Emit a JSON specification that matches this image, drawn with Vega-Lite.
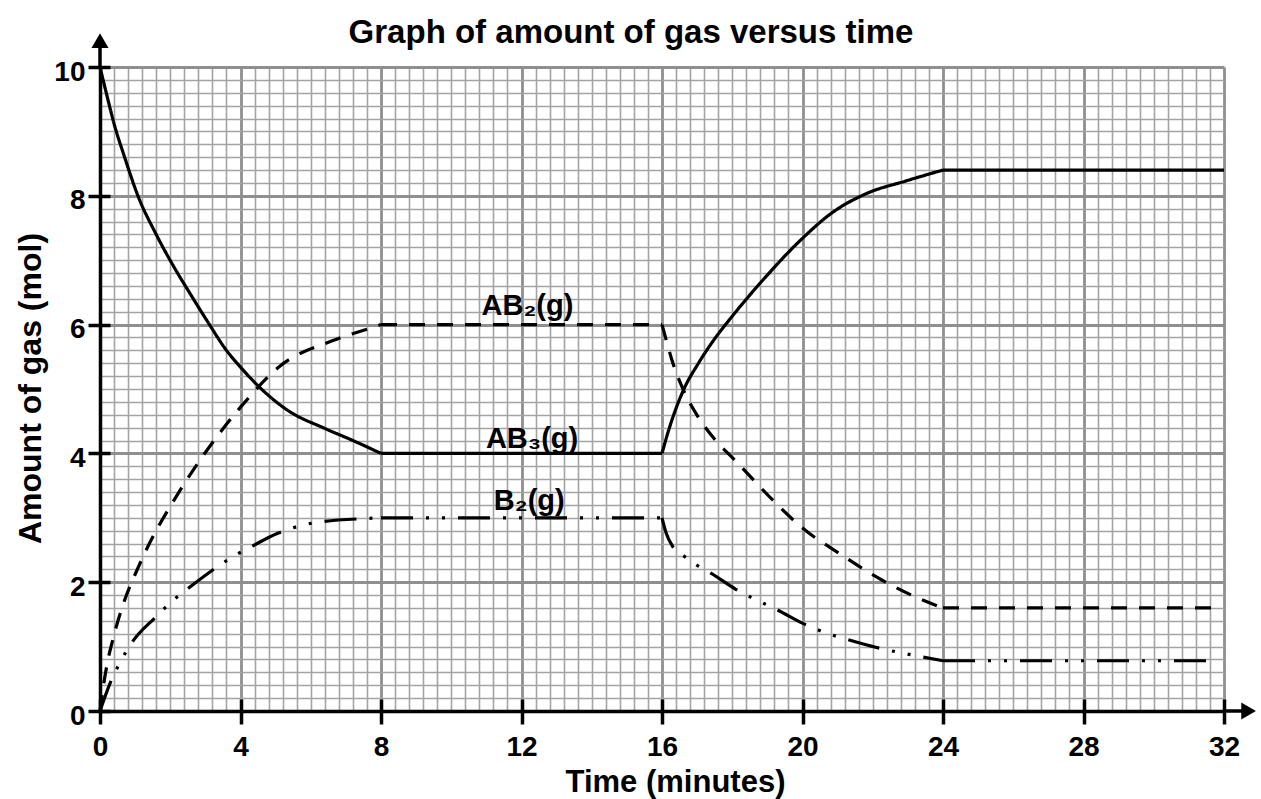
{
  "$schema": "https://vega.github.io/schema/vega-lite/v6.json",
  "width": 1124,
  "height": 644,
  "autosize": "none",
  "padding": {"left": 100, "top": 67, "right": 37, "bottom": 88},
  "background": "white",
  "config": {"view": {"stroke": null}, "font": "Liberation Sans"},
  "title": {"text": "Graph of amount of gas versus time", "font": "Liberation Sans", "fontSize": 33, "fontWeight": "bold", "color": "black", "anchor": "middle", "dx": -31, "baseline": "alphabetic", "offset": -43},
  "datasets": {
    "curves": [
      {"s":"AB3","seg":"AB3a","t":0,"n":10},{"s":"AB3","seg":"AB3a","t":0.2,"n":9.55},{"s":"AB3","seg":"AB3a","t":0.4,"n":9.12},{"s":"AB3","seg":"AB3a","t":0.7,"n":8.6},{"s":"AB3","seg":"AB3a","t":1.08,"n":8.0},{"s":"AB3","seg":"AB3a","t":1.6,"n":7.4},{"s":"AB3","seg":"AB3a","t":2.1,"n":6.9},{"s":"AB3","seg":"AB3a","t":2.6,"n":6.45},{"s":"AB3","seg":"AB3a","t":3.07,"n":6.04},{"s":"AB3","seg":"AB3a","t":3.6,"n":5.6},{"s":"AB3","seg":"AB3a","t":4.0,"n":5.34},{"s":"AB3","seg":"AB3a","t":4.5,"n":5.05},{"s":"AB3","seg":"AB3a","t":5.34,"n":4.67},{"s":"AB3","seg":"AB3a","t":6.39,"n":4.39},{"s":"AB3","seg":"AB3a","t":7.2,"n":4.2},{"s":"AB3","seg":"AB3a","t":8,"n":4},
      {"s":"AB3","seg":"AB3b","t":8,"n":4},{"s":"AB3","seg":"AB3b","t":16,"n":4},
      {"s":"AB3","seg":"AB3c","t":16,"n":4},{"s":"AB3","seg":"AB3c","t":16.2,"n":4.38},{"s":"AB3","seg":"AB3c","t":16.4,"n":4.7},{"s":"AB3","seg":"AB3c","t":16.6,"n":4.97},{"s":"AB3","seg":"AB3c","t":17.06,"n":5.42},{"s":"AB3","seg":"AB3c","t":17.5,"n":5.78},{"s":"AB3","seg":"AB3c","t":18.0,"n":6.13},{"s":"AB3","seg":"AB3c","t":18.95,"n":6.74},{"s":"AB3","seg":"AB3c","t":20.0,"n":7.34},{"s":"AB3","seg":"AB3c","t":20.85,"n":7.74},{"s":"AB3","seg":"AB3c","t":21.8,"n":8.03},{"s":"AB3","seg":"AB3c","t":22.94,"n":8.23},{"s":"AB3","seg":"AB3c","t":24,"n":8.4},
      {"s":"AB3","seg":"AB3d","t":24,"n":8.4},{"s":"AB3","seg":"AB3d","t":32,"n":8.4},
      {"s":"AB2","seg":"AB2a","t":0,"n":0},{"s":"AB2","seg":"AB2a","t":0.1,"n":0.4},{"s":"AB2","seg":"AB2a","t":0.2,"n":0.72},{"s":"AB2","seg":"AB2a","t":0.4,"n":1.18},{"s":"AB2","seg":"AB2a","t":0.7,"n":1.72},{"s":"AB2","seg":"AB2a","t":1.0,"n":2.12},{"s":"AB2","seg":"AB2a","t":1.36,"n":2.55},{"s":"AB2","seg":"AB2a","t":2.17,"n":3.33},{"s":"AB2","seg":"AB2a","t":3.02,"n":4.03},{"s":"AB2","seg":"AB2a","t":4.02,"n":4.73},{"s":"AB2","seg":"AB2a","t":5.11,"n":5.35},{"s":"AB2","seg":"AB2a","t":6.67,"n":5.76},{"s":"AB2","seg":"AB2a","t":7.72,"n":5.95},{"s":"AB2","seg":"AB2a","t":8,"n":6},
      {"s":"AB2","seg":"AB2b","t":8,"n":6},{"s":"AB2","seg":"AB2b","t":16,"n":6},
      {"s":"AB2","seg":"AB2c","t":16,"n":6},{"s":"AB2","seg":"AB2c","t":16.15,"n":5.7},{"s":"AB2","seg":"AB2c","t":16.3,"n":5.42},{"s":"AB2","seg":"AB2c","t":16.58,"n":5.02},{"s":"AB2","seg":"AB2c","t":17.06,"n":4.54},{"s":"AB2","seg":"AB2c","t":17.53,"n":4.2},{"s":"AB2","seg":"AB2c","t":18.1,"n":3.88},{"s":"AB2","seg":"AB2c","t":19.2,"n":3.25},{"s":"AB2","seg":"AB2c","t":20.0,"n":2.84},{"s":"AB2","seg":"AB2c","t":21.04,"n":2.45},{"s":"AB2","seg":"AB2c","t":22.27,"n":2.03},{"s":"AB2","seg":"AB2c","t":23.22,"n":1.77},{"s":"AB2","seg":"AB2c","t":24,"n":1.6},
      {"s":"AB2","seg":"AB2d","t":24,"n":1.6},{"s":"AB2","seg":"AB2d","t":31.85,"n":1.6},
      {"s":"B2","seg":"B2a","t":0,"n":0},{"s":"B2","seg":"B2a","t":0.3,"n":0.45},{"s":"B2","seg":"B2a","t":0.51,"n":0.69},{"s":"B2","seg":"B2a","t":0.72,"n":0.9},{"s":"B2","seg":"B2a","t":0.93,"n":1.08},{"s":"B2","seg":"B2a","t":1.55,"n":1.44},{"s":"B2","seg":"B2a","t":2.17,"n":1.76},{"s":"B2","seg":"B2a","t":2.5,"n":1.9},{"s":"B2","seg":"B2a","t":3.21,"n":2.19},{"s":"B2","seg":"B2a","t":3.92,"n":2.44},{"s":"B2","seg":"B2a","t":4.3,"n":2.55},{"s":"B2","seg":"B2a","t":5.06,"n":2.76},{"s":"B2","seg":"B2a","t":5.88,"n":2.9},{"s":"B2","seg":"B2a","t":6.34,"n":2.94},{"s":"B2","seg":"B2a","t":7.62,"n":2.99},{"s":"B2","seg":"B2a","t":8,"n":3},
      {"s":"B2","seg":"B2b","t":8,"n":3},{"s":"B2","seg":"B2b","t":16,"n":3},
      {"s":"B2","seg":"B2c","t":16,"n":3},{"s":"B2","seg":"B2c","t":16.12,"n":2.76},{"s":"B2","seg":"B2c","t":16.31,"n":2.55},{"s":"B2","seg":"B2c","t":16.64,"n":2.4},{"s":"B2","seg":"B2c","t":17.0,"n":2.26},{"s":"B2","seg":"B2c","t":17.39,"n":2.14},{"s":"B2","seg":"B2c","t":18.1,"n":1.89},{"s":"B2","seg":"B2c","t":18.9,"n":1.67},{"s":"B2","seg":"B2c","t":19.28,"n":1.57},{"s":"B2","seg":"B2c","t":20.01,"n":1.36},{"s":"B2","seg":"B2c","t":20.85,"n":1.18},{"s":"B2","seg":"B2c","t":21.28,"n":1.11},{"s":"B2","seg":"B2c","t":22.08,"n":0.99},{"s":"B2","seg":"B2c","t":22.93,"n":0.89},{"s":"B2","seg":"B2c","t":23.41,"n":0.84},{"s":"B2","seg":"B2c","t":24,"n":0.78},
      {"s":"B2","seg":"B2d","t":24,"n":0.78},{"s":"B2","seg":"B2d","t":31.85,"n":0.78}
    ],
    "labels": [
      {"lab":"AB₂(g)","t":12.17,"n":6.15},
      {"lab":"AB₃(g)","t":12.3,"n":4.09},
      {"lab":"B₂(g)","t":12.22,"n":3.12}
    ]
  },
  "resolve": {"axis": {"x": "independent", "y": "independent"}},
  "layer": [
    {
      "data": {"name": "curves"},
      "mark": {"type": "line", "color": "black", "strokeWidth": 3.2, "interpolate": "monotone", "strokeCap": "butt"},
      "encoding": {
        "x": {"field": "t", "type": "quantitative", "scale": {"domain": [0, 32], "nice": false, "zero": false},
          "axis": {"orient": "bottom", "values": [0.4,0.8,1.2,1.6,2,2.4,2.8,3.2,3.6,4.4,4.8,5.2,5.6,6,6.4,6.8,7.2,7.6,8.4,8.8,9.2,9.6,10,10.4,10.8,11.2,11.6,12.4,12.8,13.2,13.6,14,14.4,14.8,15.2,15.6,16.4,16.8,17.2,17.6,18,18.4,18.8,19.2,19.6,20.4,20.8,21.2,21.6,22,22.4,22.8,23.2,23.6,24.4,24.8,25.2,25.6,26,26.4,26.8,27.2,27.6,28.4,28.8,29.2,29.6,30,30.4,30.8,31.2,31.6],
            "grid": true, "gridColor": "#a3a3a3", "gridWidth": 1.6, "gridOpacity": 1, "domain": false, "ticks": false, "labels": false, "title": null}},
        "y": {"field": "n", "type": "quantitative", "scale": {"domain": [0, 10], "nice": false, "zero": false},
          "axis": {"orient": "left", "values": [0.2,0.4,0.6,0.8,1,1.2,1.4,1.6,1.8,2.2,2.4,2.6,2.8,3,3.2,3.4,3.6,3.8,4.2,4.4,4.6,4.8,5,5.2,5.4,5.6,5.8,6.2,6.4,6.6,6.8,7,7.2,7.4,7.6,7.8,8.2,8.4,8.6,8.8,9,9.2,9.4,9.6,9.8],
            "grid": true, "gridColor": "#a3a3a3", "gridWidth": 1.6, "gridOpacity": 1, "domain": false, "ticks": false, "labels": false, "title": null}},
        "detail": {"field": "seg"},
        "strokeDash": {"field": "s", "type": "nominal", "legend": null,
          "scale": {"domain": ["AB3", "AB2", "B2"], "range": [[1, 0], [16, 12], [32, 13, 3, 13, 3, 13]]}}
      }
    },
    {
      "data": {"name": "labels"},
      "mark": {"type": "text", "font": "Liberation Sans", "fontSize": 29, "fontWeight": "bold", "color": "black", "align": "center", "baseline": "alphabetic"},
      "encoding": {
        "x": {"field": "t", "type": "quantitative", "scale": {"domain": [0, 32], "nice": false, "zero": false},
          "axis": {"orient": "bottom", "values": [0,4,8,12,16,20,24,28,32], "grid": true, "gridColor": "#8f8f8f", "gridWidth": 2.8, "gridOpacity": 1,
            "domain": true, "domainColor": "black", "domainWidth": 3.5, "ticks": true, "tickColor": "black", "tickWidth": 3.5, "tickSize": 13,
            "labels": true, "labelFont": "Liberation Sans", "labelFontSize": 28, "labelFontWeight": "bold", "labelColor": "black", "labelFlush": false, "labelOverlap": false, "labelBound": false, "labelBaseline": "alphabetic", "labelPadding": 31,
            "title": "Time (minutes)", "titleFont": "Liberation Sans", "titleFontSize": 31, "titleFontWeight": "bold", "titleColor": "black", "titleX": 575, "titleY": 80, "titleBaseline": "alphabetic", "titleAlign": "center", "titleAnchor": "middle"}},
        "y": {"field": "n", "type": "quantitative", "scale": {"domain": [0, 10], "nice": false, "zero": false},
          "axis": {"orient": "left", "values": [0,2,4,6,8,10], "grid": true, "gridColor": "#8f8f8f", "gridWidth": 2.8, "gridOpacity": 1,
            "domain": true, "domainColor": "black", "domainWidth": 3.5, "ticks": true, "tickColor": "black", "tickWidth": 3.5, "tickSize": 12,
            "labels": true, "labelFont": "Liberation Sans", "labelFontSize": 28, "labelFontWeight": "bold", "labelColor": "black", "labelFlush": false, "labelOverlap": false, "labelBound": false, "labelPadding": 3, "labelOffset": 5,
            "title": "Amount of gas (mol)", "titleFont": "Liberation Sans", "titleFontSize": 32, "titleFontWeight": "bold", "titleColor": "black", "titleX": -60, "titleY": 321, "titleAngle": 270, "titleBaseline": "alphabetic", "titleAlign": "center", "titleAnchor": "middle"}},
        "text": {"field": "lab", "type": "nominal"}
      }
    },
    {
      "data": {"values": [{}]},
      "mark": {"type": "rule", "color": "black", "strokeWidth": 3.5},
      "encoding": {
        "x": {"datum": 32, "type": "quantitative", "scale": {"domain": [0, 32], "nice": false, "zero": false},
          "axis": {"orient": "bottom", "values": [0,4,8,12,16,20,24,28,32], "grid": false, "domain": false, "ticks": true, "tickColor": "black", "tickWidth": 3.5, "tickSize": -12, "labels": false, "title": null}},
        "x2": {"datum": 32.7},
        "y": {"datum": 0, "type": "quantitative", "scale": {"domain": [0, 10], "nice": false, "zero": false},
          "axis": {"orient": "left", "values": [0,2,4,6,8,10], "grid": false, "domain": false, "ticks": true, "tickColor": "black", "tickWidth": 3.5, "tickSize": -10, "labels": false, "title": null}}
      }
    },
    {
      "data": {"values": [{}]},
      "mark": {"type": "rule", "color": "black", "strokeWidth": 3.5},
      "encoding": {
        "x": {"datum": 0, "type": "quantitative", "axis": null},
        "y": {"datum": 10, "type": "quantitative", "axis": null},
        "y2": {"datum": 10.41}
      }
    },
    {
      "data": {"values": [{}]},
      "mark": {"type": "point", "shape": "triangle-right", "filled": true, "size": 289, "color": "black", "opacity": 1},
      "encoding": {
        "x": {"datum": 32.7, "type": "quantitative", "axis": null},
        "y": {"datum": 0, "type": "quantitative", "axis": null}
      }
    },
    {
      "data": {"values": [{}]},
      "mark": {"type": "point", "shape": "triangle-up", "filled": true, "size": 289, "color": "black", "opacity": 1},
      "encoding": {
        "x": {"datum": 0, "type": "quantitative", "axis": null},
        "y": {"datum": 10.41, "type": "quantitative", "axis": null}
      }
    }
  ]
}
